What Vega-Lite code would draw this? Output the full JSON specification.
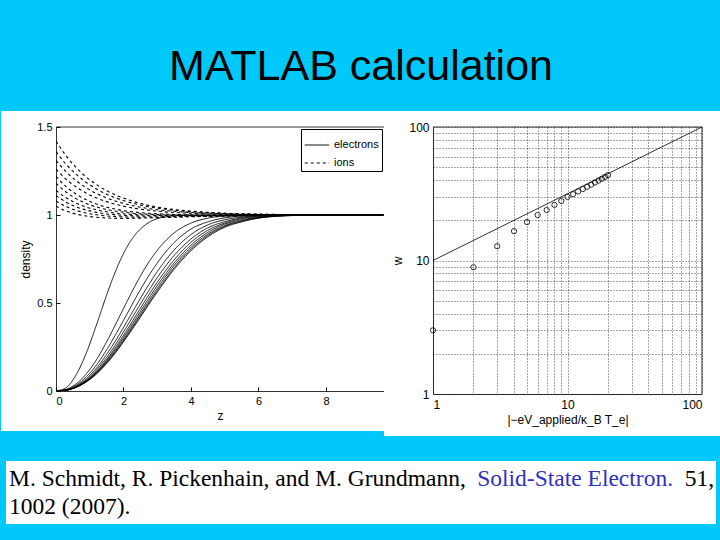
{
  "$schema": "https://vega.github.io/schema/vega-lite/v6.json",
  "background": "#00C8F8",
  "padding": {"left": 0, "top": 0, "right": 0, "bottom": 18},
  "config": {
    "view": {"stroke": null},
    "axis": {
      "labelFont": "Liberation Sans",
      "titleFont": "Liberation Sans",
      "labelColor": "black",
      "titleColor": "black",
      "titleFontWeight": "normal",
      "labelFontSize": 11,
      "titleFontSize": 12,
      "domainColor": "black",
      "domainWidth": 0.8,
      "tickColor": "black"
    }
  },
  "datasets": {
    "profiles": [
      {"z":0,"e1":0,"e2":0,"e3":0,"e4":0,"e5":0,"e6":0,"e7":0,"e8":0,"e9":0,"e10":0,"i1":1.42,"i2":1.36,"i3":1.31,"i4":1.26,"i5":1.22,"i6":1.18,"i7":1.14,"i8":1.11,"i9":1.08,"i10":1.05},
      {"z":0.3,"e1":0.019,"e2":0.0095,"e3":0.0073,"e4":0.0062,"e5":0.0053,"e6":0.0049,"e7":0.0047,"e8":0.0045,"e9":0.0043,"e10":0.0042,"i1":1.336,"i2":1.288,"i3":1.246,"i4":1.203,"i5":1.161,"i6":1.13,"i7":1.098,"i8":1.073,"i9":1.048,"i10":1.023},
      {"z":0.6,"e1":0.093,"e2":0.041,"e3":0.033,"e4":0.028,"e5":0.025,"e6":0.0238,"e7":0.0229,"e8":0.0222,"e9":0.0217,"e10":0.0213,"i1":1.269,"i2":1.231,"i3":1.195,"i4":1.159,"i5":1.118,"i6":1.093,"i7":1.067,"i8":1.046,"i9":1.026,"i10":1.005},
      {"z":0.9,"e1":0.217,"e2":0.098,"e3":0.081,"e4":0.07,"e5":0.063,"e6":0.0589,"e7":0.0568,"e8":0.0547,"e9":0.0532,"e10":0.0521,"i1":1.215,"i2":1.185,"i3":1.154,"i4":1.124,"i5":1.086,"i6":1.065,"i7":1.045,"i8":1.028,"i9":1.011,"i10":0.994},
      {"z":1.2,"e1":0.376,"e2":0.178,"e3":0.148,"e4":0.13,"e5":0.119,"e6":0.111,"e7":0.106,"e8":0.103,"e9":0.099,"e10":0.097,"i1":1.173,"i2":1.148,"i3":1.122,"i4":1.097,"i5":1.062,"i6":1.046,"i7":1.029,"i8":1.015,"i9":1.001,"i10":0.987},
      {"z":1.5,"e1":0.545,"e2":0.279,"e3":0.234,"e4":0.208,"e5":0.19,"e6":0.178,"e7":0.171,"e8":0.165,"e9":0.16,"e10":0.156,"i1":1.138,"i2":1.118,"i3":1.097,"i4":1.076,"i5":1.044,"i6":1.031,"i7":1.018,"i8":1.006,"i9":0.995,"i10":0.983},
      {"z":1.8,"e1":0.697,"e2":0.392,"e3":0.332,"e4":0.297,"e5":0.274,"e6":0.258,"e7":0.247,"e8":0.238,"e9":0.231,"e10":0.226,"i1":1.111,"i2":1.095,"i3":1.077,"i4":1.059,"i5":1.032,"i6":1.021,"i7":1.01,"i8":1.001,"i9":0.991,"i10":0.981},
      {"z":2.1,"e1":0.817,"e2":0.507,"e3":0.436,"e4":0.394,"e5":0.367,"e6":0.346,"e7":0.332,"e8":0.321,"e9":0.312,"e10":0.306,"i1":1.089,"i2":1.076,"i3":1.061,"i4":1.046,"i5":1.022,"i6":1.014,"i7":1.005,"i8":0.997,"i9":0.989,"i10":0.981},
      {"z":2.4,"e1":0.9,"e2":0.618,"e3":0.542,"e4":0.493,"e5":0.462,"e6":0.438,"e7":0.421,"e8":0.408,"e9":0.398,"e10":0.39,"i1":1.071,"i2":1.061,"i3":1.048,"i4":1.036,"i5":1.015,"i6":1.008,"i7":1.002,"i8":0.995,"i9":0.988,"i10":0.982},
      {"z":2.7,"e1":0.951,"e2":0.717,"e3":0.64,"e4":0.589,"e5":0.556,"e6":0.531,"e7":0.512,"e8":0.497,"e9":0.485,"e10":0.477,"i1":1.057,"i2":1.049,"i3":1.038,"i4":1.028,"i5":1.01,"i6":1.005,"i7":0.999,"i8":0.994,"i9":0.989,"i10":0.983},
      {"z":3,"e1":0.979,"e2":0.799,"e3":0.727,"e4":0.678,"e5":0.644,"e6":0.618,"e7":0.599,"e8":0.583,"e9":0.57,"e10":0.561,"i1":1.045,"i2":1.039,"i3":1.03,"i4":1.022,"i5":1.007,"i6":1.002,"i7":0.998,"i8":0.994,"i9":0.989,"i10":0.985},
      {"z":3.5,"e1":0.995,"e2":0.898,"e3":0.843,"e4":0.801,"e5":0.77,"e6":0.745,"e7":0.727,"e8":0.713,"e9":0.7,"e10":0.691,"i1":1.031,"i2":1.027,"i3":1.021,"i4":1.014,"i5":1.003,"i6":1.0,"i7":0.997,"i8":0.994,"i9":0.99,"i10":0.987},
      {"z":4,"e1":0.999,"e2":0.954,"e3":0.92,"e4":0.889,"e5":0.864,"e6":0.845,"e7":0.829,"e8":0.816,"e9":0.805,"e10":0.797,"i1":1.022,"i2":1.019,"i3":1.014,"i4":1.01,"i5":1.001,"i6":0.999,"i7":0.997,"i8":0.994,"i9":0.992,"i10":0.99},
      {"z":4.5,"e1":1,"e2":0.982,"e3":0.961,"e4":0.944,"e5":0.927,"e6":0.913,"e7":0.901,"e8":0.891,"e9":0.883,"e10":0.876,"i1":1.015,"i2":1.013,"i3":1.01,"i4":1.006,"i5":1.0,"i6":0.999,"i7":0.997,"i8":0.995,"i9":0.994,"i10":0.992},
      {"z":5,"e1":1,"e2":0.994,"e3":0.984,"e4":0.973,"e5":0.962,"e6":0.954,"e7":0.948,"e8":0.94,"e9":0.935,"e10":0.93,"i1":1.01,"i2":1.009,"i3":1.007,"i4":1.004,"i5":1.0,"i6":0.999,"i7":0.998,"i8":0.996,"i9":0.995,"i10":0.994},
      {"z":5.5,"e1":1,"e2":0.998,"e3":0.994,"e4":0.988,"e5":0.983,"e6":0.979,"e7":0.973,"e8":0.968,"e9":0.964,"e10":0.961,"i1":1.007,"i2":1.006,"i3":1.004,"i4":1.003,"i5":0.999,"i6":0.999,"i7":0.998,"i8":0.997,"i9":0.996,"i10":0.995},
      {"z":6,"e1":1,"e2":1,"e3":0.998,"e4":0.996,"e5":0.994,"e6":0.991,"e7":0.987,"e8":0.985,"e9":0.983,"e10":0.982,"i1":1.005,"i2":1.004,"i3":1.003,"i4":1.002,"i5":0.999,"i6":0.999,"i7":0.998,"i8":0.998,"i9":0.997,"i10":0.996},
      {"z":7,"e1":1,"e2":1,"e3":1,"e4":1,"e5":0.999,"e6":0.999,"e7":0.998,"e8":0.998,"e9":0.997,"e10":0.997,"i1":1.002,"i2":1.002,"i3":1.001,"i4":1.001,"i5":1.0,"i6":0.999,"i7":0.999,"i8":0.999,"i9":0.998,"i10":0.998},
      {"z":8,"e1":1,"e2":1,"e3":1,"e4":1,"e5":1,"e6":1,"e7":1,"e8":1,"e9":1,"e10":1,"i1":1.001,"i2":1.001,"i3":1.001,"i4":1.0,"i5":1.0,"i6":1.0,"i7":0.999,"i8":0.999,"i9":0.999,"i10":0.999},
      {"z":9.7,"e1":1,"e2":1,"e3":1,"e4":1,"e5":1,"e6":1,"e7":1,"e8":1,"e9":1,"e10":1,"i1":1,"i2":1,"i3":1,"i4":1,"i5":1,"i6":1,"i7":1,"i8":1,"i9":1,"i10":1}
    ],
    "simulated": [
      {"x":1,"w":3.0},{"x":2,"w":8.9},{"x":3,"w":12.8},{"x":4,"w":16.6},{"x":5,"w":19.4},
      {"x":6,"w":21.9},{"x":7,"w":23.9},{"x":8,"w":26.1},{"x":9,"w":27.9},{"x":10,"w":29.9},
      {"x":11,"w":31.4},{"x":12,"w":32.9},{"x":13,"w":34.3},{"x":14,"w":35.7},{"x":15,"w":37.0},
      {"x":16,"w":38.4},{"x":17,"w":39.7},{"x":18,"w":41.0},{"x":19,"w":42.3},{"x":20,"w":43.6}
    ],
    "fit": [{"x":1,"w":10},{"x":100,"w":100}],
    "cite": [
      {"line":1,"part":"authors","text":"M. Schmidt, R. Pickenhain, and M. Grundmann,"},
      {"line":1,"part":"journal","text":"Solid-State Electron."},
      {"line":1,"part":"volume","text":"51,"},
      {"line":2,"part":"year","text":"1002 (2007)."}
    ]
  },
  "spacing": 0,
  "resolve": {"scale": {"strokeDash": "independent", "color": "independent"}, "legend": {"strokeDash": "independent", "color": "independent"}},
  "vconcat": [
    {
      "width": 610,
      "height": 110,
      "data": {"values": [{"label": "MATLAB calculation"}]},
      "mark": {"type": "text", "font": "Liberation Sans", "fontSize": 43, "color": "black", "baseline": "middle", "align": "center", "dy": 12},
      "encoding": {
        "text": {"field": "label"},
        "x": {"datum": 0.5, "type": "quantitative", "scale": {"domain": [0, 1], "nice": false, "zero": false}, "axis": null}
      }
    },
    {
      "spacing": 24,
      "resolve": {"scale": {"strokeDash": "independent", "color": "independent"}, "legend": {"strokeDash": "independent", "color": "independent"}},
      "vconcat": [
        {
          "spacing": 49,
          "bounds": "flush",
          "resolve": {"scale": {"strokeDash": "independent"}, "legend": {"strokeDash": "independent"}},
          "hconcat": [
            {
              "width": 328,
              "height": 264,
              "layer": [
                {
                  "data": {"values": [{}]},
                  "mark": {"type": "rect", "fill": "white"},
                  "encoding": {
                    "x": {"datum": -1.63, "type": "quantitative", "scale": {"domain": [0, 9.72], "nice": false, "zero": false}},
                    "x2": {"datum": 9.72},
                    "y": {"datum": -0.2273, "type": "quantitative", "scale": {"domain": [0, 1.5], "nice": false, "zero": false}},
                    "y2": {"datum": 1.5909}
                  }
                },
                {
                  "data": {"name": "profiles"},
                  "transform": [{"fold": ["e1","e2","e3","e4","e5","e6","e7","e8","e9","e10"], "as": ["curve", "density"]}],
                  "mark": {"type": "line", "stroke": "black", "strokeWidth": 0.9, "interpolate": "monotone", "clip": true},
                  "encoding": {
                    "x": {"field": "z", "type": "quantitative", "scale": {"domain": [0, 9.72], "nice": false, "zero": false},
                      "axis": {"title": "z", "values": [0,2,4,6,8], "grid": false, "tickSize": -4, "labelPadding": 8, "zindex": 1}},
                    "y": {"field": "density", "type": "quantitative", "scale": {"domain": [0, 1.5], "nice": false, "zero": false},
                      "axis": {"title": "density", "values": [0,0.5,1,1.5], "format": "~g", "grid": false, "tickSize": -4, "labelPadding": 8, "zindex": 1}},
                    "detail": {"field": "curve"},
                    "strokeDash": {"datum": "electrons", "scale": {"domain": ["electrons", "ions"], "range": [[1, 0], [3, 3]]},
                      "legend": {"title": null, "orient": "top-right", "offset": 2, "padding": 3, "strokeColor": "black", "fillColor": "white",
                        "symbolType": "stroke", "symbolStrokeColor": "black", "symbolStrokeWidth": 1, "symbolSize": 600,
                        "labelFont": "Liberation Sans", "labelFontSize": 11, "labelColor": "black", "rowPadding": 0, "zindex": 1}}
                  }
                },
                {
                  "data": {"name": "profiles"},
                  "transform": [{"fold": ["i1","i2","i3","i4","i5","i6","i7","i8","i9","i10"], "as": ["curve", "density"]}],
                  "mark": {"type": "line", "stroke": "black", "strokeWidth": 1.1, "interpolate": "monotone", "clip": true},
                  "encoding": {
                    "x": {"field": "z", "type": "quantitative"},
                    "y": {"field": "density", "type": "quantitative"},
                    "detail": {"field": "curve"},
                    "strokeDash": {"datum": "ions", "scale": {"domain": ["electrons", "ions"], "range": [[1, 0], [3, 3]]}}
                  }
                },
                {
                  "data": {"values": [{}]},
                  "mark": {"type": "rule", "stroke": "black", "strokeWidth": 0.8},
                  "encoding": {"y": {"datum": 1.5, "type": "quantitative"}}
                }
              ]
            },
            {
              "width": 269,
              "height": 267,
              "layer": [
                {
                  "data": {"values": [{}]},
                  "mark": {"type": "rect", "fill": "white"},
                  "encoding": {
                    "x": {"datum": 0.432, "type": "quantitative", "scale": {"type": "log", "domain": [1, 100], "nice": false}},
                    "x2": {"datum": 138.5},
                    "y": {"datum": 0.4845, "type": "quantitative", "scale": {"type": "log", "domain": [1, 100], "nice": false}},
                    "y2": {"datum": 131.8}
                  }
                },
                {
                  "data": {"name": "fit"},
                  "mark": {"type": "line", "stroke": "black", "strokeWidth": 0.8},
                  "encoding": {
                    "x": {"field": "x", "type": "quantitative", "scale": {"type": "log", "domain": [1, 100], "nice": false},
                      "axis": {"title": "|−eV_applied/κ_B T_e|", "values": [1,2,3,4,5,6,7,8,9,10,20,30,40,50,60,70,80,90,100],
                        "labelExpr": "datum.value == 1 || datum.value == 10 || datum.value == 100 ? datum.value + '' : ''",
                        "labelOverlap": false, "grid": true, "gridDash": [1, 2], "gridColor": "black", "gridWidth": 0.7, "gridOpacity": 1,
                        "ticks": false, "labelPadding": 5, "labelFontSize": 12, "zindex": 1}},
                    "y": {"field": "w", "type": "quantitative", "scale": {"type": "log", "domain": [1, 100], "nice": false},
                      "axis": {"title": "w", "values": [1,2,3,4,5,6,7,8,9,10,20,30,40,50,60,70,80,90,100],
                        "labelExpr": "datum.value == 1 || datum.value == 10 || datum.value == 100 ? datum.value + '' : ''",
                        "labelOverlap": false, "grid": true, "gridDash": [1, 2], "gridColor": "black", "gridWidth": 0.7, "gridOpacity": 1,
                        "ticks": false, "labelPadding": 4, "labelFontSize": 12, "zindex": 1}}
                  }
                },
                {
                  "data": {"name": "simulated"},
                  "mark": {"type": "point", "shape": "circle", "filled": false, "stroke": "black", "strokeWidth": 0.8, "size": 28, "opacity": 1},
                  "encoding": {
                    "x": {"field": "x", "type": "quantitative"},
                    "y": {"field": "w", "type": "quantitative"}
                  }
                },
                {
                  "data": {"values": [{}]},
                  "mark": {"type": "rule", "stroke": "black", "strokeWidth": 0.8},
                  "encoding": {"x": {"datum": 100, "type": "quantitative"}}
                },
                {
                  "data": {"values": [{}]},
                  "mark": {"type": "rule", "stroke": "black", "strokeWidth": 0.8},
                  "encoding": {"y": {"datum": 100, "type": "quantitative"}}
                }
              ]
            }
          ]
        },
        {
          "width": 610,
          "height": 63,
          "data": {"name": "cite"},
          "layer": [
            {
              "data": {"values": [{}]},
              "mark": {"type": "rect", "fill": "white"},
              "encoding": {
                "x": {"datum": -0.08197, "type": "quantitative", "scale": {"domain": [0, 1], "nice": false, "zero": false}, "axis": null},
                "x2": {"datum": 1.08197}
              }
            },
            {
              "transform": [{"filter": {"field": "part", "oneOf": ["authors", "year"]}}],
              "mark": {"type": "text", "font": "Liberation Serif", "fontSize": 23.5, "align": "left", "baseline": "middle", "fill": "black"},
              "encoding": {
                "text": {"field": "text"},
                "x": {"datum": -0.07705, "type": "quantitative"},
                "y": {"field": "line", "type": "ordinal", "scale": {"type": "point", "padding": 0.625}, "axis": null}
              }
            },
            {
              "transform": [{"filter": {"field": "part", "equal": "journal"}}],
              "mark": {"type": "text", "font": "Liberation Serif", "fontSize": 23.5, "align": "right", "baseline": "middle", "fill": "#3030C0"},
              "encoding": {
                "text": {"field": "text"},
                "x": {"datum": 1.0115, "type": "quantitative"},
                "y": {"field": "line", "type": "ordinal", "axis": null}
              }
            },
            {
              "transform": [{"filter": {"field": "part", "equal": "volume"}}],
              "mark": {"type": "text", "font": "Liberation Serif", "fontSize": 23.5, "align": "right", "baseline": "middle", "fill": "black"},
              "encoding": {
                "text": {"field": "text"},
                "x": {"datum": 1.0787, "type": "quantitative"},
                "y": {"field": "line", "type": "ordinal", "axis": null}
              }
            }
          ]
        }
      ]
    }
  ]
}
